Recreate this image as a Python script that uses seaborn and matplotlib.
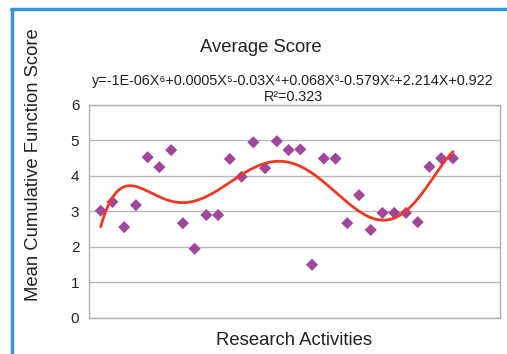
import numpy as np
import pandas as pd
import matplotlib.pyplot as plt
import seaborn as sns
from matplotlib.lines import Line2D

activity = list(range(1, 32))
score = [3.02, 3.27, 2.56, 3.18, 4.53, 4.25, 4.73, 2.67, 1.95, 2.90, 2.90,
         4.48, 3.98, 4.95, 4.22, 4.98, 4.73, 4.75, 1.50, 4.49, 4.49, 2.67,
         3.46, 2.48, 2.96, 2.96, 2.96, 2.70, 4.26, 4.50, 4.50]
equation = "y=-1E-06X\u2076+0.0005X\u2075-0.03X\u2074+0.068X\u00b3-0.579X\u00b2+2.214X+0.922"
r2_label = "R\u00b2=0.323"

df = pd.DataFrame({"activity": activity, "score": score})

# 6th order polynomial trendline, like the Excel one
coef = np.polyfit(df["activity"], df["score"], 6)
xs = np.linspace(1, 31, 300)
trend = pd.DataFrame({"activity": xs, "score": np.polyval(coef, xs)})

sns.set_style("white")
plt.rcParams['font.family'] = ['Liberation Sans', 'DejaVu Sans']

fig = plt.figure(figsize=(5.07, 3.54), dpi=100)
ax = fig.add_axes([0.1755, 0.1017, 0.8105, 0.6017])

ax.yaxis.grid(True, color="#b8b8b8", linewidth=1)
ax.set_axisbelow(True)
sns.scatterplot(data=df, x="activity", y="score", marker="D", s=38,
                color="#a0479b", edgecolor="none", ax=ax, zorder=3)
sns.lineplot(data=trend, x="activity", y="score", color="#ee3a24",
             linewidth=2, ax=ax, zorder=4)

ax.set_xlim(0, 35)
ax.set_ylim(0, 6)
ax.set_yticks(range(0, 7))
ax.set_xticks([])
ax.tick_params(axis="y", labelsize=11, length=0, pad=7, colors="#222222")
for sp in ax.spines.values():
    sp.set_color("#b0b0b0")
    sp.set_linewidth(1)

ax.set_xlabel("Research Activities", fontsize=13.3, labelpad=10, color="#222222")
ax.set_ylabel("Mean Cumulative Function Score", fontsize=13.3, color="#222222")
ax.yaxis.set_label_coords(-0.114, 0.72)

fig.text(0.515, 0.867, "Average Score", ha="center", va="center", fontsize=13.3, color="#222222")
fig.text(0.578, 0.772, equation, ha="center", va="center", fontsize=10.4, color="#222222")
fig.text(0.578, 0.727, r2_label, ha="center", va="center", fontsize=10.4, color="#222222")

# blue frame of the original screenshot
fig.add_artist(Line2D([0.023, 0.023], [0, 0.975], color="#3d8fd6", linewidth=2.5,
                      transform=fig.transFigure))
fig.add_artist(Line2D([0.021, 1], [0.975, 0.975], color="#3d8fd6", linewidth=2.5,
                      transform=fig.transFigure))

fig.savefig("out.png", dpi=100)
